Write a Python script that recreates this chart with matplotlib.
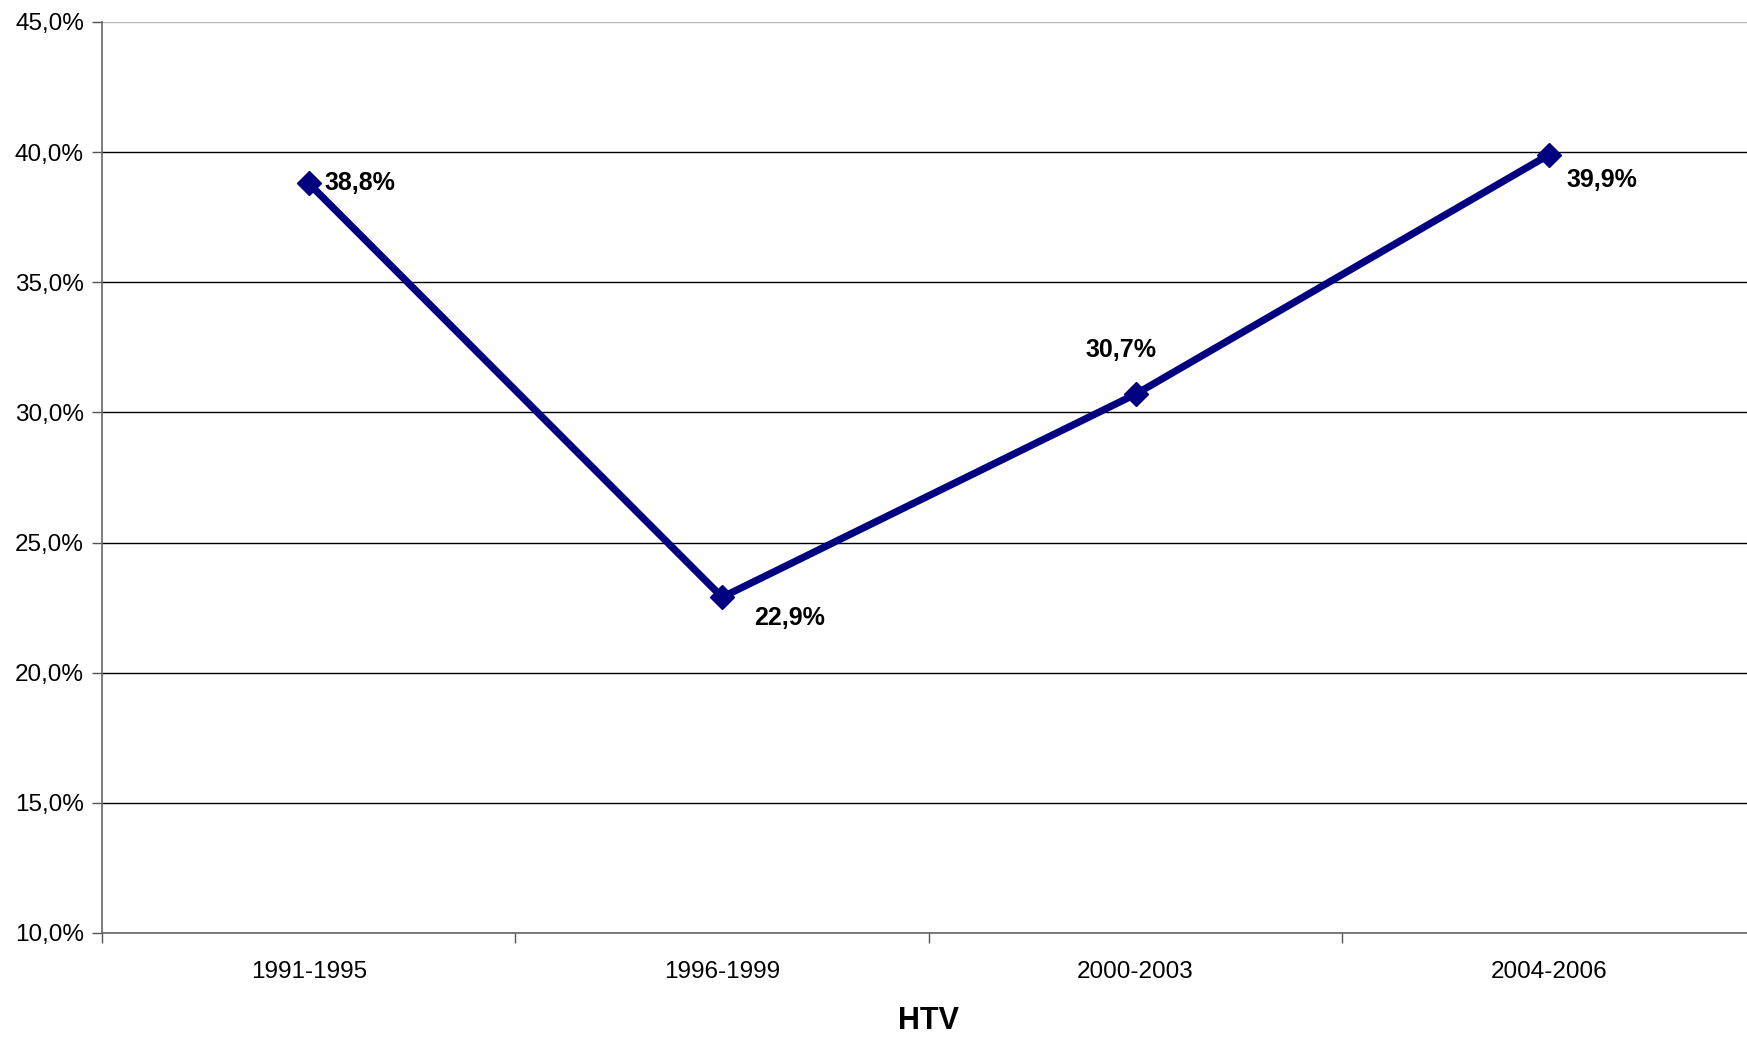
import matplotlib
matplotlib.use("Agg")
import matplotlib.pyplot as plt
from matplotlib.ticker import FixedLocator, FuncFormatter

categories = ["1991-1995", "1996-1999", "2000-2003", "2004-2006"]
values = [38.8, 22.9, 30.7, 39.9]
label_texts = ["38,8%", "22,9%", "30,7%", "39,9%"]
xlabel = "HTV"

plt.rcParams['font.family'] = ['Liberation Sans', 'DejaVu Sans']

fig = plt.figure(figsize=(17.47, 10.37), dpi=100)
ax = fig.add_axes([0.0584, 0.1003, 0.9466, 0.8785])

xs = [i + 0.5 for i in range(len(categories))]
ax.plot(xs, values, color="#000080", lw=5.2, marker="D", ms=12.5,
        markeredgecolor="#000080", solid_joinstyle="miter", zorder=5, clip_on=False)

ax.set_xlim(0, len(categories))
ax.set_ylim(10, 45)
ax.set_yticks([10, 15, 20, 25, 30, 35, 40, 45])
ax.yaxis.set_major_formatter(FuncFormatter(lambda v, p: f"{v:.1f}".replace(".", ",") + "%"))
ax.grid(axis="y", color="#000000", lw=1.0)
ax.set_axisbelow(True)
ax.get_ygridlines()[-1].set_color("#bbbbbb")

ax.xaxis.set_major_locator(FixedLocator(list(range(len(categories) + 1))))
ax.xaxis.set_minor_locator(FixedLocator(xs))
ax.set_xticklabels([])
ax.set_xticklabels(categories, minor=True)
ax.tick_params(axis="x", which="major", length=7, width=1, color="#555555", direction="out")
ax.tick_params(axis="x", which="minor", length=0, pad=20, labelsize=17.5)
ax.tick_params(axis="y", length=7, width=1, color="#555555", direction="out", pad=6, labelsize=17.5)

for s in ["top", "right"]:
    ax.spines[s].set_visible(False)
for s in ["left", "bottom"]:
    ax.spines[s].set_color("#666666")
    ax.spines[s].set_linewidth(1.2)

offsets = [(16, 0, "left", "center"), (32, -21, "left", "center"),
           (-15, 44, "center", "center"), (17, -25, "left", "center")]
for x, v, t, (dx, dy, ha, va) in zip(xs, values, label_texts, offsets):
    ax.annotate(t, (x, v), xytext=(dx, dy), textcoords="offset pixels",
                ha=ha, va=va, fontsize=18, fontweight="bold", zorder=6)

ax.set_xlabel(xlabel, fontsize=22, fontweight="bold", labelpad=17)

fig.savefig("out.png", dpi=100)
